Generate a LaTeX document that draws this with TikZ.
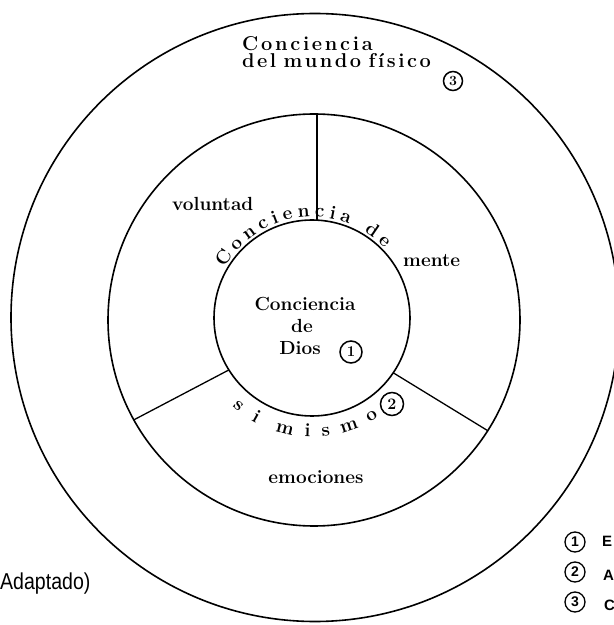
\documentclass[tikz,border=0pt]{standalone}
\usepackage{fontspec}
\newfontfamily\lsans{Liberation Sans}
\usetikzlibrary{decorations.text,calc}
\ExplSyntaxOn
\NewDocumentCommand\spc{mm}{\tl_map_inline:nn {#2}{##1\kern #1\relax}\unkern}
\ExplSyntaxOff
\begin{document}
\begin{tikzpicture}[x=1pt,y=1pt,
  ring/.style={line width=1.6pt},
  spoke/.style={line width=1.3pt},
  hand/.style={font=\fontsize{19}{19}\selectfont\bfseries, inner sep=0pt},
  handbig/.style={font=\fontsize{20}{20}\selectfont\bfseries, inner sep=0pt, anchor=base west},
  num/.style={circle, draw, line width=1.5pt, inner sep=0pt, font=\bfseries\fontsize{14}{14}\selectfont},
  legnum/.style={circle, draw, line width=1.3pt, minimum size=20pt, inner sep=0pt, font=\lsans\bfseries\fontsize{14}{14}\selectfont},
  legtxt/.style={font=\lsans\bfseries\fontsize{15}{15}\selectfont, anchor=base west, inner sep=0pt},
  arctext/.style={decorate, decoration={text along path, text={|\fontsize{19}{19}\selectfont\bfseries|#1}, text align=fit to path}}
]
\useasboundingbox (0,0) rectangle (614,625);
\coordinate (O) at (315,307.5);
\coordinate (M) at (314,305);
\coordinate (I) at (312,307);
% rings
\draw[ring] (O) circle[radius=304];
\draw[ring] (M) circle[radius=206];
\draw[ring] (I) circle[radius=98];
% spokes
\coordinate (vt) at (317,511);
\coordinate (vb) at (317,405);
\coordinate (lo) at ($(M)+(209:206)$);
\coordinate (li) at ($(I)+(212:98)$);
\coordinate (ro) at ($(M)+(327.5:206)$);
\coordinate (ri) at ($(I)+(326:98)$);
\draw[spoke] (vt) -- (vb);
\draw[spoke] (lo) -- (li);
\draw[spoke] (ro) -- (ri);
% outer label
\node[handbig] (t1) at (242,574) {\spc{2.7pt}{Conciencia}};
\node[handbig] (t2) at (242,557) {\spc{2.5pt}{del}\ \spc{2.5pt}{mundo}\ \spc{2.5pt}{físico}};
\node[num, minimum size=19pt, font=\bfseries\fontsize{14}{14}\selectfont] (n3) at (453,544) {3};
% middle ring labels
\node[hand, anchor=base west] (vol) at (172,414) {voluntad};
\node[hand, anchor=base west] (men) at (403,358) {mente};
\node[hand, anchor=base] (emo) at (316,141) {emociones};
% inner labels
\node[hand, anchor=base] (c1) at (305,314) {Conciencia};
\node[hand, anchor=base] (c2) at (302,292) {de};
\node[hand, anchor=base] (c3) at (300,270) {Dios};
\node[num, minimum size=22pt, font=\bfseries\fontsize{15}{15}\selectfont] (n1) at (351,273) {1};
% curved texts
\path[arctext={Conciencia de}] ($(I)+(150:101)$) arc[start angle=150, end angle=44, radius=101];
\path[arctext={si}] ($(I)+(228:119)$) arc[start angle=228, end angle=242, radius=119];
\path[arctext={mismo}] ($(I)+(252:119)$) arc[start angle=252, end angle=304, radius=119];
\node[num, minimum size=23pt, font=\bfseries\fontsize{16}{16}\selectfont] (n2) at (392,221) {2};
% legend
\node[legnum] (l1) at (575,83) {1};
\node[legnum] (l2) at (575,53) {2};
\node[legnum] (l3) at (575,23) {3};
\node[legtxt] (e1) at (602,78) {E};
\node[legtxt] (e2) at (603,45) {A};
\node[legtxt] (e3) at (604,15) {C};
% source
\node[anchor=base west, inner sep=0pt, font=\lsans\fontsize{23}{23}\selectfont] (src) at (0,35) {\scalebox{0.85}[1]{Adaptado)}};
\end{tikzpicture}
\end{document}
